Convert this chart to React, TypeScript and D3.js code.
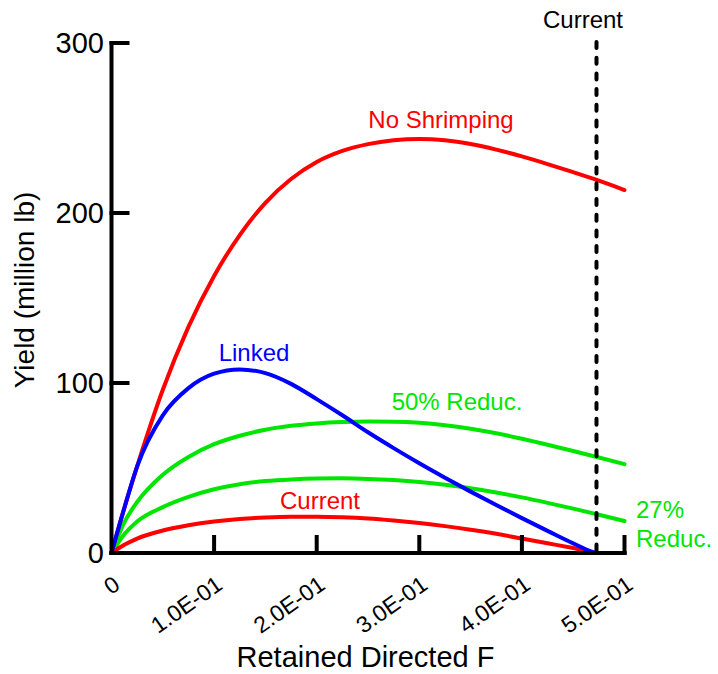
import * as d3 from 'd3';

const fValues = [0, 0.0125, 0.025, 0.05, 0.075, 0.1, 0.125, 0.15, 0.175, 0.2, 0.225, 0.25, 0.275, 0.3, 0.325, 0.35, 0.375, 0.4, 0.425, 0.45, 0.475, 0.5];

const noShrimping = [0, 26.5, 51, 96, 133, 163, 187, 206, 220, 230, 236.5, 240.5, 242.8, 243.6, 242.8, 240.6, 237.3, 233.3, 228.8, 224, 219, 213.5];
const linked = [0, 26.5, 51, 81, 97, 105.5, 108, 105.8, 99.5, 90.5, 81, 71, 61.7, 52.8, 44.3, 36.1, 28.2, 20.5, 13, 5.7, 0, 0];
const reduc50 = [0, 18, 30, 46, 56.5, 64, 69, 72.5, 74.8, 76.2, 77, 77.3, 77.2, 76.6, 75.2, 73.1, 70.4, 67.2, 63.7, 60, 56.2, 52.3];
const reduc27 = [0, 11, 18.5, 27, 33, 37.5, 40.5, 42.3, 43.3, 43.8, 43.9, 43.6, 42.9, 41.8, 40.2, 38.1, 35.6, 32.7, 29.5, 26.1, 22.5, 18.8];
const current = [0, 4.8, 8.5, 13.2, 16.3, 18.5, 20, 20.9, 21.3, 21.3, 21, 20.3, 19.1, 17.6, 15.8, 13.7, 11.3, 8.5, 5.7, 2.9, 0, 0];

const yTicks = [0, 100, 200, 300];
const xTicks = [0, 0.1, 0.2, 0.3, 0.4, 0.5];
const xTickLabels = ['0', '1.0E-01', '2.0E-01', '3.0E-01', '4.0E-01', '5.0E-01'];
const currentF = 0.4727;

const RED = '#ff0000';
const GREEN = '#00e600';
const BLUE = '#0000ff';
const FONT = 'Liberation Sans, Arial, sans-serif';

export default function App() {
  const x = d3.scaleLinear().domain([0, 0.5]).range([111.5, 624.5]);
  const y = d3.scaleLinear().domain([0, 300]).range([553, 43]);

  const line = (vals: number[]) =>
    d3.line<number>()
      .x((_, i) => x(fValues[i]))
      .y(d => y(d))
      .curve(d3.curveMonotoneX)(vals) || '';

  const series = [
    { vals: reduc27, color: GREEN },
    { vals: reduc50, color: GREEN },
    { vals: current, color: RED },
    { vals: noShrimping, color: RED },
    { vals: linked, color: BLUE },
  ];

  return (
    <svg width={718} height={674} style={{ position: 'absolute', left: 0, top: 0, background: '#fff' }} fontFamily={FONT}>
      {series.map((s, i) => (
        <path key={i} d={line(s.vals)} fill="none" stroke={s.color} strokeWidth={4} strokeLinecap="round" strokeLinejoin="round" />
      ))}

      {/* current F marker */}
      <line x1={x(currentF)} x2={x(currentF)} y1={42} y2={y(0)} stroke="#000" strokeWidth={4}
        strokeDasharray="6,9.7" strokeLinecap="round" />
      <text x={583} y={28} fontSize={24} textAnchor="middle" fill="#000">Current</text>

      {/* axes */}
      <line x1={x(0)} x2={x(0)} y1={y(300)} y2={y(0)} stroke="#000" strokeWidth={4} strokeLinecap="square" />
      <line x1={x(0)} x2={x(0.5)} y1={y(0)} y2={y(0)} stroke="#000" strokeWidth={4} strokeLinecap="square" />
      {yTicks.map(t => (
        <g key={t}>
          <line x1={x(0)} x2={x(0) + 16} y1={y(t)} y2={y(t)} stroke="#000" strokeWidth={4} strokeLinecap="square" />
          <text x={104} y={y(t)} dy="0.36em" fontSize={29} textAnchor="end">{t}</text>
        </g>
      ))}
      {xTicks.map((t, i) => (
        <g key={t}>
          {i > 0 && <line x1={x(t)} x2={x(t)} y1={y(0)} y2={y(0) - 16} stroke="#000" strokeWidth={4} strokeLinecap="square" />}
          <text transform={`translate(${x(t) + 10},588) rotate(-35)`} fontSize={23} textAnchor="end">{xTickLabels[i]}</text>
        </g>
      ))}

      <text x={365.5} y={667} fontSize={29} textAnchor="middle">Retained Directed F</text>
      <text transform="translate(34,290) rotate(-90)" fontSize={28} textAnchor="middle">Yield (million lb)</text>

      {/* series labels */}
      <text x={441} y={128} fontSize={24} textAnchor="middle" fill={RED}>No Shrimping</text>
      <text x={254} y={361} fontSize={24} textAnchor="middle" fill={BLUE}>Linked</text>
      <text x={457} y={410} fontSize={24} textAnchor="middle" fill={GREEN}>50% Reduc.</text>
      <text x={320} y={509} fontSize={24} textAnchor="middle" fill={RED}>Current</text>
      <text x={636} y={518} fontSize={24} fill={GREEN}>27%</text>
      <text x={636} y={547} fontSize={24} fill={GREEN}>Reduc.</text>
    </svg>
  );
}
